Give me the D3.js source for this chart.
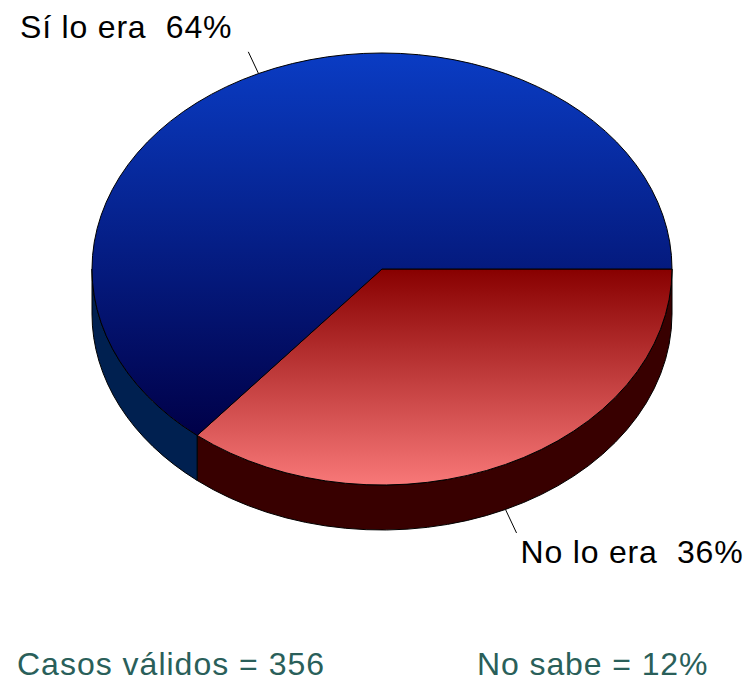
<!DOCTYPE html>
<html>
<head>
<meta charset="utf-8">
<script src="https://cdn.jsdelivr.net/npm/d3@7"></script>
<style>
  body { margin: 0; background: #fff; }
  svg { display: block; }
</style>
</head>
<body>
<div id="chart"></div>
<script>
// data
const categories = ["No lo era", "Sí lo era"];
const percents = [36, 64];
const footLeft = "Casos válidos = 356";
const footRight = "No sabe = 12%";

const width = 750;
const height = 683;
const cx = 382, cy = 269;   // centre of top face
const rx = 290, ry = 216;   // ellipse radii
const depth = 45;           // thickness of the pie

const svg = d3.select("#chart")
  .append("svg")
  .attr("width", width)
  .attr("height", height);

const defs = svg.append("defs");

// top face gradients (per slice bounding box)
const topColors = [["#880000", "#f87878"], ["#0a3cc4", "#000048"]];
const sideColors = ["#380000", "#002050"];

topColors.forEach((c, i) => {
  const g = defs.append("linearGradient")
    .attr("id", "grad" + i)
    .attr("x1", 0).attr("y1", 0).attr("x2", 0).attr("y2", 1);
  g.append("stop").attr("offset", "0%").attr("stop-color", c[0]);
  g.append("stop").attr("offset", "100%").attr("stop-color", c[1]);
});

// pie angles: start at 3 o'clock, clockwise
const pie = d3.pie()
  .value(d => d)
  .sort(null)
  .startAngle(Math.PI / 2)
  .endAngle(Math.PI / 2 + 2 * Math.PI);

const arcs = pie(percents).map((d, i) => ({
  name: categories[i],
  value: d.value,
  index: i,
  t0: d.startAngle - Math.PI / 2,
  t1: d.endAngle - Math.PI / 2
}));

const px = t => cx + rx * Math.cos(t);
const py = t => cy + ry * Math.sin(t);

function topPath(a) {
  const large = (a.t1 - a.t0) > Math.PI ? 1 : 0;
  return `M${cx},${cy} L${px(a.t0)},${py(a.t0)} ` +
         `A${rx},${ry} 0 ${large} 1 ${px(a.t1)},${py(a.t1)} Z`;
}

function sidePath(t0, t1) {
  return `M${px(t0)},${py(t0)} A${rx},${ry} 0 0 1 ${px(t1)},${py(t1)} ` +
         `L${px(t1)},${py(t1) + depth} ` +
         `A${rx},${ry} 0 0 0 ${px(t0)},${py(t0) + depth} Z`;
}

// front-facing side walls (angles 0..PI are the visible front)
const sides = svg.append("g");
arcs.forEach(a => {
  [[0, Math.PI], [2 * Math.PI, 3 * Math.PI]].forEach(([lo, hi]) => {
    const s = Math.max(a.t0, lo), e = Math.min(a.t1, hi);
    if (e > s) {
      sides.append("path")
        .attr("d", sidePath(s, e))
        .attr("fill", sideColors[a.index])
        .attr("stroke", "#000")
        .attr("stroke-width", 1)
        .attr("stroke-linejoin", "round");
    }
  });
});

// top faces
svg.append("g").selectAll("path")
  .data(arcs)
  .enter()
  .append("path")
  .attr("d", topPath)
  .attr("fill", d => `url(#grad${d.index})`)
  .attr("stroke", "#000")
  .attr("stroke-width", 1)
  .attr("stroke-linejoin", "round");

// leader lines and labels
const font = "'Liberation Sans', Arial, sans-serif";
arcs.forEach(a => {
  const mid = (a.t0 + a.t1) / 2;
  const front = Math.sin(mid) > 0;
  const x0 = px(mid);
  const y0 = py(mid) + (front ? depth : 0);
  const len = front ? 26 : 24;
  const x1 = x0 + Math.cos(mid) * len;
  const y1 = y0 + Math.sin(mid) * len;

  svg.append("line")
    .attr("x1", x0).attr("y1", y0)
    .attr("x2", x1).attr("y2", y1)
    .attr("stroke", "#000")
    .attr("stroke-width", 1);

  svg.append("text")
    .attr("x", front ? x1 + 4 : x1 - 16)
    .attr("y", front ? y1 + 30 : y1 - 14)
    .attr("text-anchor", front ? "start" : "end")
    .style("font-family", font)
    .style("font-size", "32px")
    .style("letter-spacing", "0.8px")
    .style("fill", "#000")
    .style("white-space", "pre")
    .text(`${a.name}  ${a.value}%`);
});

// footer notes
svg.append("text")
  .attr("x", 17)
  .attr("y", 675)
  .style("font-family", font)
  .style("font-size", "32px")
  .style("letter-spacing", "1px")
  .style("fill", "#2a5f5a")
  .text(footLeft);

svg.append("text")
  .attr("x", 477)
  .attr("y", 675)
  .style("font-family", font)
  .style("font-size", "32px")
  .style("letter-spacing", "0.9px")
  .style("fill", "#2a5f5a")
  .text(footRight);
</script>
</body>
</html>
